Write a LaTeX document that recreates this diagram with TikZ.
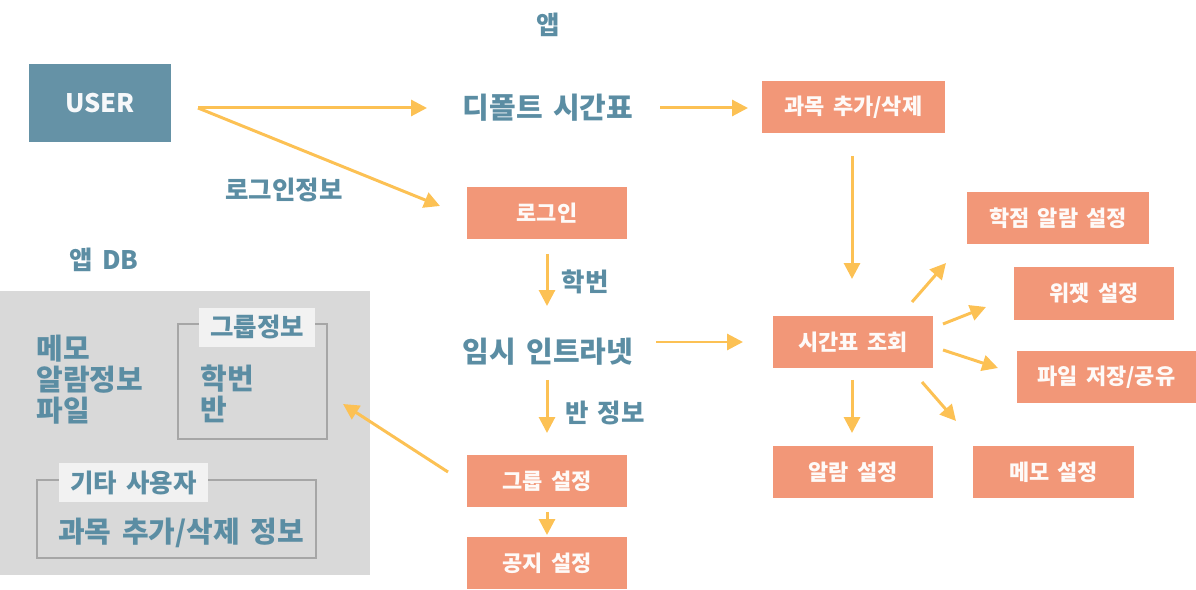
\documentclass[tikz,border=0pt]{standalone}
\usepackage{fontspec}
\setmainfont{Noto Sans CJK KR}[WordSpace=1.6]
\usetikzlibrary{arrows.meta}

\definecolor{userblue}{HTML}{6592A6}
\definecolor{textblue}{HTML}{5B8DA3}
\definecolor{salmon}{HTML}{F29778}
\definecolor{arrowyellow}{HTML}{FCC154}
\definecolor{dbgray}{HTML}{D9D9D9}
\definecolor{framegray}{HTML}{A6A6A6}
\definecolor{tagwhite}{HTML}{F2F2F2}

\tikzset{
  box/.style={fill=salmon, text=white!95!salmon, font=\bfseries\fontsize{12.5pt}{14pt}\selectfont, inner sep=0pt},
  bluetext/.style={text=textblue, font=\bfseries\fontsize{14.5pt}{16pt}\selectfont, inner sep=0pt},
  bigtext/.style={text=textblue, font=\bfseries\fontsize{16.5pt}{18pt}\selectfont, inner sep=0pt},
  flow/.style={arrowyellow, line width=1.7pt, -{Triangle[length=9pt, width=9pt]}},
  tagbox/.style={fill=tagwhite, text=textblue, font=\bfseries\fontsize{14.5pt}{16pt}\selectfont, inner sep=0pt}
}

\begin{document}
\begin{tikzpicture}[x=0.02cm, y=-0.02cm]
\useasboundingbox (0,0) rectangle (1196,590);

% App DB panel
\fill[dbgray] (0,291) rectangle (370,575);
\node (db) at (104,260) [bluetext] {앱 DB};
\node (local) at (36,380) [bigtext, anchor=west, align=left, font=\bfseries\fontsize{16.5pt}{17.6pt}\selectfont] {메모\\알람정보\\파일};
\draw[framegray, line width=1.7pt] (178,324) rectangle (327,439);
\node (grouptag) at (257,327.5) [tagbox, minimum width=2.32cm, minimum height=0.78cm] {그룹정보};
\node (groupdata) at (200,394) [bigtext, anchor=west, align=left, font=\bfseries\fontsize{16.5pt}{17.6pt}\selectfont] {학번\\반};
\draw[framegray, line width=1.7pt] (37,480) rectangle (316,558);
\node (othertag) at (133.5,482.5) [tagbox, minimum width=2.98cm, minimum height=0.78cm] {기타 사용자};
\node (otherdata) at (181,533) [bigtext] {과목 추가/삭제 정보};

% Top row
\node (app) at (548,25) [bluetext] {앱};
\node (user) at (100,103) [fill=userblue, text=white!94!userblue, minimum width=2.84cm, minimum height=1.56cm, font=\bfseries\fontsize{14.5pt}{18pt}\selectfont] {USER};
\node (default) at (548,108) [bigtext] {디폴트 시간표};
\node (course) at (853.5,107) [box, minimum width=3.66cm, minimum height=1.04cm] {과목 추가/삭제};

\coordinate (userout) at (198,108);
\draw[flow] (userout) -- (427,108);
\draw[flow] (userout) -- (440,206);
\node (logininfo) at (284,190) [bluetext] {로그인정보};
\draw[flow] (660,108) -- (748,108);
\draw[flow] (852,156) -- (852,279);

% Middle column
\node (login) at (547,213) [box, minimum width=3.2cm, minimum height=1.04cm] {로그인};
\draw[flow] (547,254) -- (547,306);
\node (id) at (585,282) [bluetext] {학번};
\node (intranet) at (548,352) [bigtext] {임시 인트라넷};
\draw[flow] (656,342) -- (743,342);
\draw[flow] (547,380) -- (547,433);
\node (classinfo) at (605,413) [bluetext] {반 정보};
\node (group) at (547,481) [box, minimum width=3.2cm, minimum height=1.04cm] {그룹 설정};
\node (notice) at (547,563) [box, minimum width=3.2cm, minimum height=1.04cm] {공지 설정};
\draw[flow] (547,512) -- (547,535);
\draw[flow] (448,472) -- (343,404);

% Right side
\node (view) at (853,342) [box, minimum width=3.2cm, minimum height=1.04cm] {시간표 조회};
\node (alarm) at (853,472) [box, minimum width=3.2cm, minimum height=1.04cm] {알람 설정};
\node (grade) at (1058,218) [box, minimum width=3.64cm, minimum height=1.04cm] {학점 알람 설정};
\node (widget) at (1094,293.5) [box, minimum width=3.2cm, minimum height=1.06cm] {위젯 설정};
\node (file) at (1106.5,377) [box, minimum width=3.58cm, minimum height=1.04cm] {파일 저장/공유};
\node (memo) at (1053.5,472) [box, minimum width=3.22cm, minimum height=1.04cm] {메모 설정};
\draw[flow] (852,380) -- (852,433);
\draw[flow] (912,302) -- (946,263);
\draw[flow] (943,324) -- (986,307);
\draw[flow] (943,350) -- (998,368);
\draw[flow] (922,382) -- (956,421);

\end{tikzpicture}
\end{document}
